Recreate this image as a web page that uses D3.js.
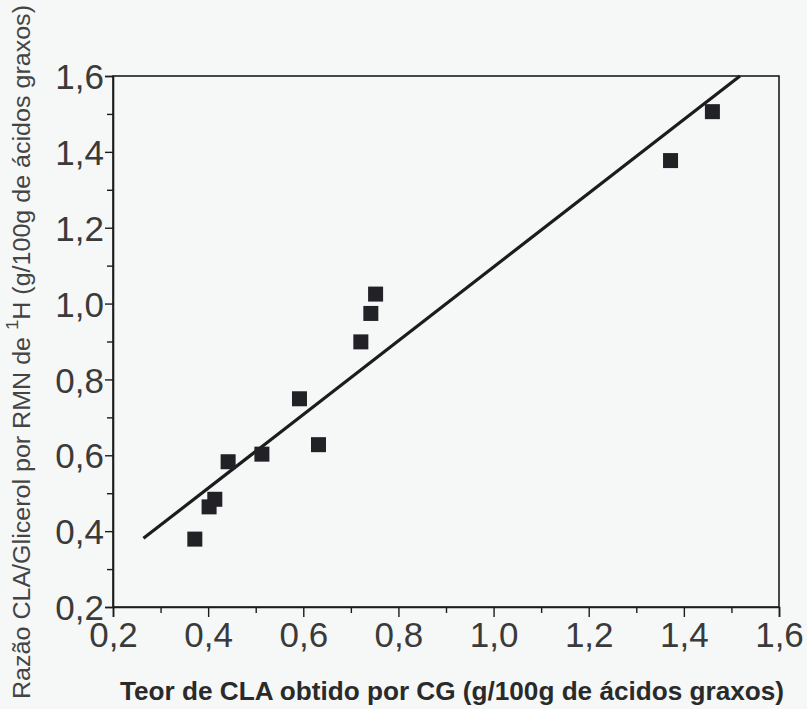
<!DOCTYPE html>
<html><head><meta charset="utf-8">
<script src="https://cdn.jsdelivr.net/npm/d3@7"></script>
<style>html,body{margin:0;padding:0;background:#f6f7f7;}svg{display:block;}</style>
</head><body>
<svg id="c" width="807" height="709"></svg>
<script>
const xValues = [0.372, 0.402, 0.414, 0.442, 0.513, 0.592, 0.632, 0.721, 0.742, 0.752, 1.372, 1.460];
const yValues = [0.379, 0.464, 0.484, 0.583, 0.603, 0.749, 0.628, 0.899, 0.974, 1.025, 1.377, 1.506];
const fitX = [0.264, 1.518];
const fitY = [0.381, 1.600];
const xTicks = [0.2, 0.4, 0.6, 0.8, 1.0, 1.2, 1.4, 1.6];
const yTicks = [0.2, 0.4, 0.6, 0.8, 1.0, 1.2, 1.4, 1.6];
const minorTicks = [0.3, 0.5, 0.7, 0.9, 1.1, 1.3, 1.5];
const xTitle = "Teor de CLA obtido por CG (g/100g de ácidos graxos)";

const svg = d3.select("#c");
const L = 113, R = 779, T = 76, B = 607;
const x = d3.scaleLinear().domain([0.2, 1.6]).range([L, R]);
const y = d3.scaleLinear().domain([0.2, 1.6]).range([B, T]);
const ink = "#1c1c1e";
const FONT = "'Liberation Sans', Arial, Helvetica, sans-serif";
const fmt = d => d3.format(".1f")(d).replace(".", ",");

// frame
svg.append("rect").attr("x", L).attr("y", T).attr("width", R - L).attr("height", B - T)
  .attr("fill", "none").attr("stroke", ink).attr("stroke-width", 1.6);

// axes
const xa = svg.append("g").attr("transform", `translate(0,${B})`)
  .call(d3.axisBottom(x).tickValues(xTicks).tickFormat(fmt).tickSize(10).tickPadding(5));
svg.append("g").attr("transform", `translate(0,${B})`)
  .call(d3.axisBottom(x).tickValues(minorTicks).tickFormat("").tickSize(6))
  .call(g => g.select(".domain").remove());
const ya = svg.append("g").attr("transform", `translate(${L},0)`)
  .call(d3.axisLeft(y).tickValues(yTicks).tickFormat(fmt).tickSize(8).tickPadding(1));
svg.append("g").attr("transform", `translate(${L},0)`)
  .call(d3.axisLeft(y).tickValues(minorTicks).tickFormat("").tickSize(6))
  .call(g => g.select(".domain").remove());

svg.selectAll(".domain").attr("stroke", ink).attr("stroke-width", 1.6);
svg.selectAll(".tick line").attr("stroke", ink).attr("stroke-width", 1.4);
svg.selectAll(".tick text").attr("fill", "#3a3a3a").attr("font-family", FONT)
  .attr("font-size", 35);
ya.selectAll(".tick text").attr("dy", "0.36em");

// fit line
const line = d3.line().x(d => x(d[0])).y(d => y(d[1]));
svg.append("path").datum(fitX.map((v, i) => [v, fitY[i]]))
  .attr("d", line).attr("fill", "none").attr("stroke", ink).attr("stroke-width", 3.2);

// points
const s = 15;
svg.append("g").selectAll("rect").data(xValues.map((v, i) => [v, yValues[i]])).join("rect")
  .attr("x", d => x(d[0]) - s / 2).attr("y", d => y(d[1]) - s / 2)
  .attr("width", s).attr("height", s).attr("fill", "#222226");

// x title
svg.append("text").attr("x", 452).attr("y", 700).attr("text-anchor", "middle")
  .attr("font-family", FONT).attr("font-weight", "bold")
  .attr("font-size", 25).attr("fill", "#2a2a2a")
  .attr("textLength", 664).attr("lengthAdjust", "spacingAndGlyphs")
  .text(xTitle);

// y title
const yt = svg.append("text").attr("transform", "translate(30,352) rotate(-90)")
  .attr("text-anchor", "middle")
  .attr("font-family", FONT)
  .attr("font-size", 23).attr("fill", "#444")
  .attr("textLength", 694).attr("lengthAdjust", "spacingAndGlyphs");
yt.append("tspan").text("Razão CLA/Glicerol por RMN de ");
yt.append("tspan").attr("dy", -12).attr("font-size", 17).text("1");
yt.append("tspan").attr("dy", 12).text("H (g/100g de ácidos graxos)");
</script>
</body></html>
